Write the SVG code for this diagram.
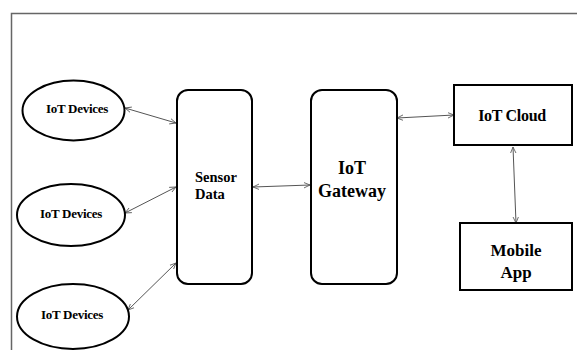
<svg xmlns="http://www.w3.org/2000/svg" width="577" height="350" viewBox="0 0 577 350">
<style>
.shape{fill:#fff;stroke:#000;stroke-width:2}
.lbl{font-family:"Liberation Serif","Times New Roman",serif;font-weight:bold;fill:#000}
.conn{stroke:#555;stroke-width:1;fill:none;marker-start:url(#arr);marker-end:url(#arr)}
</style>
<defs>
<marker id="arr" viewBox="0 0 10 10" refX="9" refY="5" markerWidth="7" markerHeight="7" markerUnits="userSpaceOnUse" orient="auto-start-reverse">
<path d="M0,1 L9,5 L0,9" fill="none" stroke="#555" stroke-width="1.2"/>
</marker>
</defs>
<rect x="0" y="0" width="577" height="350" fill="#fff"/>
<path d="M11.5,350 V13.5 H577" fill="none" stroke="#666" stroke-width="1.5"/>
<g id="connectors">
<line class="conn" x1="125" y1="108" x2="176" y2="123"/>
<line class="conn" x1="125" y1="213" x2="176" y2="187"/>
<line class="conn" x1="128" y1="310" x2="176" y2="263"/>
<line class="conn" x1="253" y1="187" x2="310" y2="185"/>
<line class="conn" x1="397" y1="118" x2="454" y2="115"/>
<line class="conn" x1="513" y1="147" x2="516" y2="223"/>
</g>
<g id="dev1"><ellipse class="shape" cx="73.5" cy="110.5" rx="51" ry="30"/><text class="lbl" x="77" y="113" font-size="13" text-anchor="middle" letter-spacing="-0.3">IoT Devices</text></g>
<g id="dev2"><ellipse class="shape" cx="71" cy="215" rx="54" ry="31"/><text class="lbl" x="71" y="218" font-size="13" text-anchor="middle" letter-spacing="-0.3">IoT Devices</text></g>
<g id="dev3"><ellipse class="shape" cx="73" cy="316.5" rx="56" ry="32.5"/><text class="lbl" x="72" y="319" font-size="13" text-anchor="middle" letter-spacing="-0.3">IoT Devices</text></g>
<g id="sensor"><rect class="shape" x="177" y="90" width="75" height="194" rx="11"/><text class="lbl" x="195" y="182" font-size="14.5">Sensor</text><text class="lbl" x="195" y="199" font-size="14.5">Data</text></g>
<g id="gateway"><rect class="shape" x="311" y="90" width="86" height="194" rx="11"/><text class="lbl" x="352" y="174" font-size="18" text-anchor="middle">IoT</text><text class="lbl" x="352" y="197" font-size="18" text-anchor="middle">Gateway</text></g>
<g id="cloud"><rect class="shape" x="454" y="85" width="118" height="60"/><text class="lbl" x="512" y="121" font-size="16" text-anchor="middle" letter-spacing="-0.3">IoT Cloud</text></g>
<g id="mobile"><rect class="shape" x="460" y="223" width="112" height="67"/><text class="lbl" x="516" y="256" font-size="17" text-anchor="middle">Mobile</text><text class="lbl" x="516" y="278" font-size="17" text-anchor="middle">App</text></g>
</svg>
